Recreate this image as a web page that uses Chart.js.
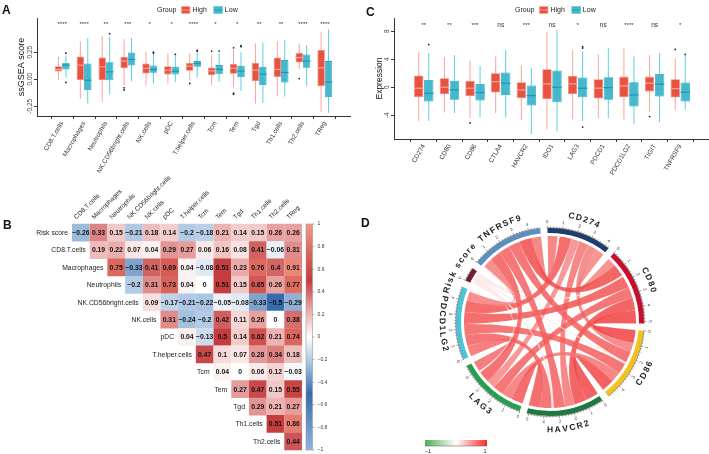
<!DOCTYPE html>
<html>
<head>
<meta charset="utf-8">
<script src="https://cdn.jsdelivr.net/npm/chart.js@4.4.1/dist/chart.umd.min.js"></script>
<style>
  body { margin: 0; background: #fff; width: 709px; height: 454px; position: relative; overflow: hidden;
         font-family: 'Liberation Sans', Arial, sans-serif; }
  canvas { position: absolute; }
  .tag { position: absolute; font-weight: bold; font-size: 12px; color: #111; }
</style>
</head>
<body>
<canvas id="cA" width="351" height="190" style="left:0;top:0"></canvas>
<canvas id="cC" width="360" height="190" style="left:350px;top:0"></canvas>
<canvas id="cB" width="350" height="279" style="left:0;top:175px"></canvas>
<canvas id="cD" width="349" height="264" style="left:360px;top:190px"></canvas>
<div class="tag" style="left:2px;top:3px">A</div>
<div class="tag" style="left:3px;top:218px">B</div>
<div class="tag" style="left:366px;top:5px">C</div>
<div class="tag" style="left:361px;top:216px">D</div>
<script>
// ----------------------------------------
// data: panel A (ssGSEA score boxplots)
// each row is [min, q1, median, q3, max]
// ----------------------------------------
const immuneCells = ['CD8.T.cells', 'Macrophages', 'Neutrophils', 'NK.CD56bright.cells', 'NK.cells', 'pDC',
  'T.helper.cells', 'Tcm', 'Tem', 'Tgd', 'Th1.cells', 'Th2.cells', 'TReg'];
const aHigh = [
  [-0.01, 0.07, 0.09, 0.12, 0.21],
  [-0.18, -0.01, 0.13, 0.21, 0.35],
  [-0.21, -0.01, 0.115, 0.20, 0.40],
  [-0.06, 0.10, 0.167, 0.207, 0.37],
  [-0.055, 0.052, 0.10, 0.145, 0.25],
  [-0.04, 0.043, 0.083, 0.12, 0.24],
  [-0.01, 0.077, 0.12, 0.15, 0.24],
  [-0.055, 0.037, 0.077, 0.108, 0.22],
  [-0.077, 0.05, 0.10, 0.14, 0.27],
  [-0.225, -0.02, 0.083, 0.15, 0.33],
  [-0.16, 0.02, 0.09, 0.20, 0.35],
  [0.09, 0.154, 0.20, 0.245, 0.33],
  [-0.30, -0.065, 0.105, 0.27, 0.44]
];
const aLow = [
  [0.015, 0.09, 0.13, 0.15, 0.22],
  [-0.225, -0.10, -0.01, 0.145, 0.38],
  [-0.14, -0.01, 0.068, 0.157, 0.39],
  [-0.02, 0.127, 0.182, 0.247, 0.38],
  [-0.04, 0.059, 0.09, 0.127, 0.23],
  [-0.025, 0.043, 0.074, 0.114, 0.22],
  [0.015, 0.114, 0.145, 0.167, 0.25],
  [-0.025, 0.046, 0.09, 0.13, 0.24],
  [-0.108, 0.02, 0.074, 0.123, 0.25],
  [-0.22, -0.055, 0.046, 0.114, 0.34],
  [-0.16, -0.03, 0.062, 0.176, 0.36],
  [-0.065, 0.105, 0.167, 0.228, 0.315],
  [-0.31, -0.164, -0.025, 0.167, 0.46]
];
const aHighOut = [[], [], [], [-0.08, -0.1], [], [], [-0.04], [0.26], [0.29, -0.13, -0.14], [], [], [0.006], []];
const aLowOut = [[0.24, -0.03], [], [0.42], [], [0.25, 0.24], [0.23], [0.26, 0.265], [0.26], [0.31, 0.30], [], [], [], []];
const aSig = ['****', '****', '**', '***', '*', '*', '****', '*', '*', '**', '**', '****', '****'];
const aTicks = [-0.25, 0, 0.25];

// ----------------------------------------
// data: panel C (checkpoint expression boxplots)
// ----------------------------------------
const checkpoints = ['CD274', 'CD80', 'CD86', 'CTLA4', 'HAVCR2', 'IDO1', 'LAG3', 'PDCD1', 'PDCD1LG2', 'TIGIT', 'TNFRSF9'];
const cHigh = [
  [-4.8, -1.43, -0.14, 1.67, 5.1],
  [-3.6, -1.0, 0, 1.29, 4.3],
  [-4.4, -1.24, -0.14, 0.9, 3.8],
  [-3.7, -0.76, 0.8, 2.0, 4.4],
  [-4.7, -1.57, -0.38, 0.71, 3.1],
  [-6.0, -1.67, 0.48, 2.57, 7.9],
  [-4.6, -0.95, 0.48, 1.6, 5.3],
  [-4.4, -1.6, -0.14, 1.14, 4.7],
  [-4.6, -1.43, 0.19, 1.52, 5.6],
  [-3.5, -0.62, 0.57, 1.52, 4.6],
  [-3.2, -1.48, -0.19, 1.14, 4.1]
];
const cLow = [
  [-4.8, -2.05, -0.86, 1.05, 4.9],
  [-3.7, -1.8, -0.38, 0.9, 4.6],
  [-4.3, -1.9, -0.76, 0.48, 3.05],
  [-4.3, -1.1, 0.57, 2.1, 5.3],
  [-6.7, -2.6, -1.19, 0.24, 2.8],
  [-6.3, -2.14, 0, 2.38, 8.2],
  [-4.8, -1.43, -0.14, 1.38, 5.1],
  [-4.4, -1.8, -0.05, 1.43, 5.6],
  [-5.3, -2.76, -1.1, 0.71, 4.4],
  [-5.0, -1.33, 0.43, 1.9, 4.9],
  [-3.2, -2.05, -0.71, 0.67, 4.6]
];
const cHighOut = [[], [], [-5.1], [], [], [], [], [], [], [-4.2], [5.4]];
const cLowOut = [[6.1], [], [], [], [], [], [5.8, 5.6, -5.7], [], [], [], [4.7]];
const cSig = ['**', '**', '***', 'ns', '***', 'ns', '*', 'ns', '****', 'ns', '*'];
const cTicks = [-4, 0, 4, 8];

// ----------------------------------------
// data: panel B (correlation upper triangle)
// row r starts at column 0 (Risk score) or column r
// ----------------------------------------
const corrRows = ['Risk score', 'CD8.T.cells', 'Macrophages', 'Neutrophils', 'NK.CD56bright.cells', 'NK.cells',
  'pDC', 'T.helper.cells', 'Tcm', 'Tem', 'Tgd', 'Th1.cells', 'Th2.cells'];
const corrVals = [
  [-0.26, 0.33, 0.15, -0.21, 0.18, 0.14, -0.2, -0.18, 0.21, 0.14, 0.15, 0.26, 0.26],
  [0.19, 0.22, 0.07, 0.04, 0.29, 0.27, 0.06, 0.16, 0.08, 0.41, -0.06, 0.31],
  [0.75, -0.33, 0.41, 0.69, 0.04, -0.08, 0.51, 0.23, 0.76, 0.4, 0.91],
  [-0.2, 0.31, 0.73, 0.04, 0, 0.51, 0.15, 0.65, 0.26, 0.77],
  [0.09, -0.17, -0.21, -0.22, -0.05, -0.08, -0.33, -0.5, -0.29],
  [0.31, -0.24, -0.2, 0.42, 0.11, 0.26, 0, 0.38],
  [0.04, -0.13, 0.5, 0.14, 0.62, 0.21, 0.74],
  [0.47, 0.1, 0.07, 0.28, 0.34, 0.18],
  [0.04, 0, 0.06, 0.12, -0.03],
  [0.27, 0.47, 0.15, 0.55],
  [0.29, 0.21, 0.27],
  [0.51, 0.86],
  [0.44]
];

// ----------------------------------------
// data: panel D (chord diagram correlations)
// ----------------------------------------
const chordNames = ['CD274', 'CD80', 'CD86', 'HAVCR2', 'LAG3', 'PDCD1LG2', 'Risk score', 'TNFRSF9'];
const chordCorr = [
  [1, 0.62, 0.65, 0.70, 0.60, 0.85, 0.15, 0.70],
  [0.62, 1, 0.95, 0.90, 0.80, 0.85, 0.12, 0.90],
  [0.65, 0.95, 1, 0.92, 0.70, 0.80, 0.14, 0.80],
  [0.70, 0.90, 0.92, 1, 0.85, 0.80, 0.16, 0.80],
  [0.60, 0.80, 0.70, 0.85, 1, 0.75, 0.12, 0.82],
  [0.85, 0.85, 0.80, 0.80, 0.75, 1, 0.12, 0.65],
  [0.15, 0.12, 0.14, 0.16, 0.12, 0.12, 1, 0.11],
  [0.70, 0.90, 0.80, 0.80, 0.82, 0.65, 0.11, 1]
];

// ----------------------------------------
// styles
// ----------------------------------------
const HIGH = { fill: '#E8523F', edge: '#F0877C', whisker: '#F7A49E', median: '#F6A69E' };
const LOW = { fill: '#46B8CD', edge: '#27A9BF', whisker: '#5CCFDE', median: '#1A98AE' };
const chordColors = ['#1F3C6E', '#C8102E', '#F4C21B', '#1C7A40', '#23A14C', '#4DC3D6', '#7A1A2E', '#5C8EC2'];
const heatStops = [[-1, [140, 180, 225]], [-0.5, [55, 108, 172]], [-0.25, [160, 190, 222]], [0, [255, 255, 255]],
  [0.25, [232, 165, 163]], [0.5, [196, 60, 62]], [0.75, [219, 104, 94]], [1, [242, 152, 134]]];
const FONT = "'Liberation Sans', Arial, sans-serif";
const TAU = Math.PI * 2;

Chart.defaults.font.family = FONT;
Chart.defaults.color = '#222';
Chart.defaults.animation = false;
Chart.defaults.responsive = false;
Chart.defaults.events = [];
Chart.defaults.plugins.legend.display = false;
Chart.defaults.plugins.tooltip.enabled = false;

function heatColor(v) {
  for (let k = 1; k < heatStops.length; k++) {
    const [v1, c1] = heatStops[k];
    const [v0, c0] = heatStops[k - 1];
    if (v <= v1) {
      const t = (v - v0) / (v1 - v0);
      return 'rgb(' + c0.map((c, m) => Math.round(c + (c1[m] - c) * t)).join(',') + ')';
    }
  }
  return 'rgb(' + heatStops[heatStops.length - 1][1].join(',') + ')';
}
const fmtNum = v => String(v).replace('-', '\u2212');

// ----------------------------------------
// boxplot pieces drawn around the floating bars
// ----------------------------------------
const boxPlot = {
  id: 'boxPlot',
  beforeDatasetsDraw(chart) {
    const ctx = chart.ctx, y = chart.scales.y;
    chart.data.datasets.forEach((ds, d) => {
      chart.getDatasetMeta(d).data.forEach((bar, i) => {
        const s = ds.stats[i];
        ctx.save();
        ctx.strokeStyle = ds.whisker;
        ctx.lineWidth = 1;
        ctx.beginPath();
        ctx.moveTo(bar.x, y.getPixelForValue(s[0]));
        ctx.lineTo(bar.x, y.getPixelForValue(s[4]));
        ctx.stroke();
        ctx.restore();
      });
    });
  },
  afterDatasetsDraw(chart, args, opts) {
    const ctx = chart.ctx, y = chart.scales.y, x = chart.scales.x;
    chart.data.datasets.forEach((ds, d) => {
      chart.getDatasetMeta(d).data.forEach((bar, i) => {
        const s = ds.stats[i];
        const my = y.getPixelForValue(s[2]);
        ctx.save();
        ctx.strokeStyle = ds.median;
        ctx.lineWidth = 1.2;
        ctx.beginPath();
        ctx.moveTo(bar.x - bar.width / 2, my);
        ctx.lineTo(bar.x + bar.width / 2, my);
        ctx.stroke();
        ctx.fillStyle = '#222';
        ds.outliers[i].forEach(v => {
          ctx.beginPath();
          ctx.arc(bar.x, y.getPixelForValue(v), 0.9, 0, TAU);
          ctx.fill();
        });
        ctx.restore();
      });
    });
    // significance labels
    ctx.save();
    ctx.fillStyle = '#333';
    ctx.textAlign = 'center';
    ctx.textBaseline = 'middle';
    opts.sig.forEach((t, i) => {
      ctx.font = (t === 'ns' ? '6.5px ' : '6px ') + FONT;
      ctx.fillText(t, x.getPixelForValue(i), y.getPixelForValue(opts.sigY));
    });
    ctx.restore();
  },
  afterDraw(chart, args, opts) {
    const ctx = chart.ctx, y = chart.scales.y, area = chart.chartArea;
    // rotated y tick labels
    ctx.save();
    ctx.fillStyle = '#444';
    ctx.font = '6.5px ' + FONT;
    ctx.textAlign = 'center';
    ctx.textBaseline = 'bottom';
    y.ticks.forEach(t => {
      ctx.save();
      ctx.translate(area.left - 4, y.getPixelForValue(t.value));
      ctx.rotate(-Math.PI / 2);
      ctx.fillText(opts.tickFmt(t.value), 0, 0);
      ctx.restore();
    });
    ctx.restore();
    // group legend
    let lx = opts.legendX;
    const ly = 10;
    ctx.save();
    ctx.font = '7px ' + FONT;
    ctx.textBaseline = 'middle';
    ctx.fillStyle = '#222';
    ctx.fillText('Group', lx, ly);
    lx += ctx.measureText('Group').width + 5;
    chart.data.datasets.forEach(ds => {
      ctx.fillStyle = ds.backgroundColor;
      ctx.fillRect(lx, ly - 3.5, 8.5, 7);
      ctx.strokeStyle = ds.whisker;
      ctx.lineWidth = 0.8;
      ctx.strokeRect(lx, ly - 3.5, 8.5, 7);
      ctx.beginPath();
      ctx.moveTo(lx, ly);
      ctx.lineTo(lx + 8.5, ly);
      ctx.strokeStyle = ds.median;
      ctx.stroke();
      lx += 11;
      ctx.fillStyle = '#222';
      ctx.fillText(ds.label, lx, ly);
      lx += ctx.measureText(ds.label).width + 7;
    });
    ctx.restore();
  }
};

function boxChart(id, cats, high, low, highOut, lowOut, sig, cfg) {
  const toBars = stats => stats.map((s, i) => ({ x: i, y: [s[1], s[3]] }));
  const common = { borderWidth: 0.8, borderSkipped: false, categoryPercentage: cfg.catPct, barPercentage: cfg.barPct };
  return new Chart(document.getElementById(id), {
    type: 'bar',
    data: {
      datasets: [
        Object.assign({ label: 'High', data: toBars(high), stats: high, outliers: highOut,
          backgroundColor: HIGH.fill, borderColor: HIGH.edge, whisker: HIGH.whisker, median: HIGH.median }, common),
        Object.assign({ label: 'Low', data: toBars(low), stats: low, outliers: lowOut,
          backgroundColor: LOW.fill, borderColor: LOW.edge, whisker: LOW.whisker, median: LOW.median }, common)
      ]
    },
    options: {
      layout: { padding: cfg.pad, autoPadding: false },
      scales: {
        x: {
          type: 'linear', min: -0.6, max: cats.length - 0.4,
          grid: { drawOnChartArea: false, tickLength: 3, color: '#333' },
          border: { color: '#333', width: 1 },
          afterBuildTicks: s => { s.ticks = cats.map((c, i) => ({ value: i })); },
          ticks: { autoSkip: false, minRotation: 60, maxRotation: 60, padding: 1, color: '#333',
                   font: { size: 6.5 }, callback: (v, i) => cats[i] },
          afterFit: s => { s.height = cfg.xH; s.paddingLeft = 0; s.paddingRight = 0; }
        },
        y: {
          min: cfg.yMin, max: cfg.yMax,
          grid: { drawOnChartArea: false, tickLength: 3, color: '#333' },
          border: { color: '#333', width: 1 },
          afterBuildTicks: s => { s.ticks = cfg.yTicks.map(v => ({ value: v })); },
          ticks: { display: false },
          title: { display: true, text: cfg.yTitle, color: '#111', padding: 0, font: { size: cfg.titleSize } },
          afterFit: s => { s.width = cfg.yW; }
        }
      },
      plugins: { boxPlot: { sig: sig, sigY: cfg.sigY, tickFmt: cfg.tickFmt, legendX: cfg.legendX } }
    },
    plugins: [boxPlot]
  });
}

// ---------- panel A ----------
boxChart('cA', immuneCells, aHigh, aLow, aHighOut, aLowOut, aSig, {
  pad: { left: 16, right: 1, top: 18, bottom: 0 }, yW: 21, xH: 74,
  yMin: -0.34, yMax: 0.565, yTicks: aTicks, sigY: 0.51, yTitle: 'ssGSEA score', titleSize: 9,
  tickFmt: v => v.toFixed(2), legendX: 157, catPct: 0.68, barPct: 1
});

// ---------- panel C ----------
boxChart('cC', checkpoints, cHigh, cLow, cHighOut, cLowOut, cSig, {
  pad: { left: 25, right: 0, top: 18, bottom: 0 }, yW: 19, xH: 51,
  yMin: -7.4, yMax: 9.9, yTicks: cTicks, sigY: 8.9, yTitle: 'Expression', titleSize: 8.5,
  tickFmt: v => String(v), legendX: 165, catPct: 0.78, barPct: 0.94
});

// ---------- panel B ----------
const heatCells = [];
corrVals.forEach((row, r) => {
  const c0 = r === 0 ? 0 : r;
  row.forEach((v, k) => heatCells.push({ x: immuneCells[c0 + k], y: corrRows[r], v: v, r: r }));
});

const heatPlugin = {
  id: 'heatText',
  afterDatasetsDraw(chart) {
    const ctx = chart.ctx, xs = chart.scales.x, ys = chart.scales.y, cb = chart.scales.cb, area = chart.chartArea;
    const cellW = (area.right - area.left) / immuneCells.length;
    ctx.save();
    // cell values
    ctx.font = 'bold 6.8px ' + FONT;
    ctx.fillStyle = '#111';
    ctx.textAlign = 'center';
    ctx.textBaseline = 'middle';
    chart.getDatasetMeta(0).data.forEach((pt, k) => {
      ctx.fillText(fmtNum(heatCells[k].v), pt.x, pt.y + 0.5);
    });
    // row labels next to the first cell of each row
    ctx.font = '6.8px ' + FONT;
    ctx.fillStyle = '#222';
    ctx.textAlign = 'right';
    corrRows.forEach((name, r) => {
      const c0 = r === 0 ? 0 : r;
      ctx.fillText(name, xs.getPixelForValue(c0) - cellW / 2 - 4, ys.getPixelForValue(r) + 0.5);
    });
    // colour bar
    const top = cb.getPixelForValue(1), bot = cb.getPixelForValue(-1);
    const bx = area.right + 4, bw = 6.5;
    const grad = ctx.createLinearGradient(0, bot, 0, top);
    heatStops.forEach(([v]) => grad.addColorStop((v + 1) / 2, heatColor(v)));
    ctx.fillStyle = grad;
    ctx.fillRect(bx, top, bw, bot - top);
    ctx.strokeStyle = '#999';
    ctx.lineWidth = 0.6;
    ctx.strokeRect(bx, top, bw, bot - top);
    ctx.font = '5px ' + FONT;
    ctx.fillStyle = '#333';
    ctx.textAlign = 'left';
    cb.ticks.forEach(t => {
      const ty = cb.getPixelForValue(t.value);
      ctx.beginPath();
      ctx.moveTo(bx + bw, ty);
      ctx.lineTo(bx + bw + 2, ty);
      ctx.strokeStyle = '#777';
      ctx.stroke();
      ctx.fillText(fmtNum(parseFloat(t.value.toFixed(1))), bx + bw + 5, ty);
    });
    ctx.restore();
  }
};

new Chart(document.getElementById('cB'), {
  type: 'scatter',
  data: {
    datasets: [{
      data: heatCells,
      pointStyle: 'rect',
      pointRadius: 17.7 / Math.SQRT2,
      borderWidth: 0,
      backgroundColor: c => heatColor(c.raw.v)
    }]
  },
  options: {
    layout: { padding: { left: 72, right: 48, top: 0, bottom: 4 }, autoPadding: false },
    scales: {
      x: {
        type: 'category', labels: immuneCells, position: 'top', offset: true,
        grid: { display: false, drawTicks: false }, border: { display: false },
        ticks: { autoSkip: false, minRotation: 45, maxRotation: 45, padding: 3, color: '#222', font: { size: 6.5 } },
        afterFit: s => { s.height = 49; s.paddingLeft = 0; s.paddingRight = 0; }
      },
      y: { type: 'category', labels: corrRows, offset: true, display: false },
      cb: { type: 'linear', position: 'right', min: -1, max: 1, display: false, ticks: { stepSize: 0.2 } }
    }
  },
  plugins: [heatPlugin]
});

// ---------- panel D ----------
const chordSizes = chordCorr.map((row, i) => row.reduce((s, v, j) => s + (i === j ? 0 : Math.abs(v)), 0));
const chordTotal = chordSizes.reduce((a, b) => a + b, 0);
const GAP_DEG = 4.4;
const gapSize = chordTotal * GAP_DEG / (360 - chordNames.length * GAP_DEG);
const ringData = [], ringColors = [], ringLabels = [];
chordSizes.forEach((s, i) => {
  ringData.push(s, gapSize);
  ringColors.push(chordColors[i], 'rgba(0,0,0,0)');
  ringLabels.push(chordNames[i], '');
});

function curvedText(ctx, str, cx, cy, r, mid, gap) {
  const n = ((mid % TAU) + TAU) % TAU;
  // lower half of the circle reads the other way round so the text stays upright
  const flip = n > 0.05 && n < Math.PI + 0.15;
  const dir = flip ? -1 : 1;
  const chars = [...str];
  const ws = chars.map(ch => ctx.measureText(ch).width);
  const total = ws.reduce((a, b) => a + b, 0) + gap * (chars.length - 1);
  let a = mid - dir * total / 2 / r;
  chars.forEach((ch, k) => {
    const ca = a + dir * ws[k] / 2 / r;
    ctx.save();
    ctx.translate(cx + r * Math.cos(ca), cy + r * Math.sin(ca));
    ctx.rotate(ca + (flip ? -Math.PI / 2 : Math.PI / 2));
    ctx.fillText(ch, 0, 0);
    ctx.restore();
    a += dir * (ws[k] + gap) / r;
  });
}

function linkColor(c) {
  const t = Math.min(Math.abs(c), 1);
  const base = c >= 0 ? [240, 55, 55] : [60, 170, 60];
  return 'rgba(' + base.map(b => Math.round(255 + (b - 255) * t)).join(',') + ',0.85)';
}

const chordPlugin = {
  id: 'chord',
  afterDatasetsDraw(chart) {
    const ctx = chart.ctx;
    const arcs = chart.getDatasetMeta(0).data.filter((el, k) => k % 2 === 0);
    const cx = arcs[0].x, cy = arcs[0].y;
    const rOut = arcs[0].outerRadius, rLink = arcs[0].innerRadius - 3;
    const n = chordNames.length;
    // positions of every link end inside its sector
    const seg = chordNames.map(() => []);
    arcs.forEach((el, i) => {
      const unit = (el.endAngle - el.startAngle) / chordSizes[i];
      let cur = el.startAngle;
      for (let k = 1; k < n; k++) {
        const j = (i - k + n) % n;
        const w = Math.abs(chordCorr[i][j]) * unit;
        seg[i][j] = [cur, cur + w];
        cur += w;
      }
    });
    ctx.save();
    for (let i = 0; i < n; i++) {
      for (let j = i + 1; j < n; j++) {
        const [s1, e1] = seg[i][j], [s2, e2] = seg[j][i];
        ctx.beginPath();
        ctx.arc(cx, cy, rLink, s1, e1);
        ctx.quadraticCurveTo(cx, cy, cx + rLink * Math.cos(s2), cy + rLink * Math.sin(s2));
        ctx.arc(cx, cy, rLink, s2, e2);
        ctx.quadraticCurveTo(cx, cy, cx + rLink * Math.cos(s1), cy + rLink * Math.sin(s1));
        ctx.closePath();
        ctx.fillStyle = linkColor(chordCorr[i][j]);
        ctx.fill();
        ctx.strokeStyle = 'rgba(255,255,255,0.12)';
        ctx.lineWidth = 0.3;
        ctx.stroke();
      }
    }
    // axis ticks and numbers
    ctx.textAlign = 'center';
    ctx.textBaseline = 'middle';
    arcs.forEach((el, i) => {
      const unit = (el.endAngle - el.startAngle) / chordSizes[i];
      ctx.strokeStyle = '#444';
      ctx.lineWidth = 0.5;
      ctx.beginPath();
      ctx.arc(cx, cy, rOut + 0.3, el.startAngle, el.endAngle);
      ctx.stroke();
      for (let t = 0; t <= chordSizes[i] + 1e-6; t += 0.2) {
        const a = el.startAngle + t * unit;
        const major = Math.abs(t - Math.round(t)) < 1e-6;
        const len = major ? 2.6 : 1.5;
        ctx.beginPath();
        ctx.moveTo(cx + rOut * Math.cos(a), cy + rOut * Math.sin(a));
        ctx.lineTo(cx + (rOut + len) * Math.cos(a), cy + (rOut + len) * Math.sin(a));
        ctx.stroke();
        if (major) {
          ctx.font = '4.5px ' + FONT;
          ctx.fillStyle = '#444';
          curvedText(ctx, String(Math.round(t)), cx, cy, rOut + 6, a, 0);
        }
      }
      ctx.font = 'bold 8.5px ' + FONT;
      ctx.fillStyle = '#222';
      curvedText(ctx, chordNames[i], cx, cy, rOut + 14, (el.startAngle + el.endAngle) / 2, 1.5);
    });
    // colour key
    const kx = 65, ky = 250, kw = 62, kh = 6;
    const grad = ctx.createLinearGradient(kx, 0, kx + kw, 0);
    grad.addColorStop(0, '#4DB04F');
    grad.addColorStop(0.5, '#FFFFFF');
    grad.addColorStop(1, '#FF2B2B');
    ctx.fillStyle = grad;
    ctx.fillRect(kx, ky, kw, kh);
    ctx.strokeStyle = '#555';
    ctx.lineWidth = 0.5;
    ctx.beginPath();
    ctx.moveTo(kx, ky + kh);
    ctx.lineTo(kx + kw, ky + kh);
    ctx.stroke();
    ctx.font = '5.5px ' + FONT;
    ctx.fillStyle = '#222';
    ctx.fillText('\u22121', kx + 3, ky + kh + 5);
    ctx.fillText('1', kx + kw - 2, ky + kh + 5);
    ctx.restore();
  }
};

new Chart(document.getElementById('cD'), {
  type: 'doughnut',
  data: { labels: ringLabels, datasets: [{ data: ringData, backgroundColor: ringColors, borderWidth: 0 }] },
  options: {
    rotation: -1.6,
    circumference: 360,
    radius: 94,
    cutout: 89,
    layout: { padding: { left: 96, right: 65, top: 38, bottom: 38 } }
  },
  plugins: [chordPlugin]
});
</script>
</body>
</html>
